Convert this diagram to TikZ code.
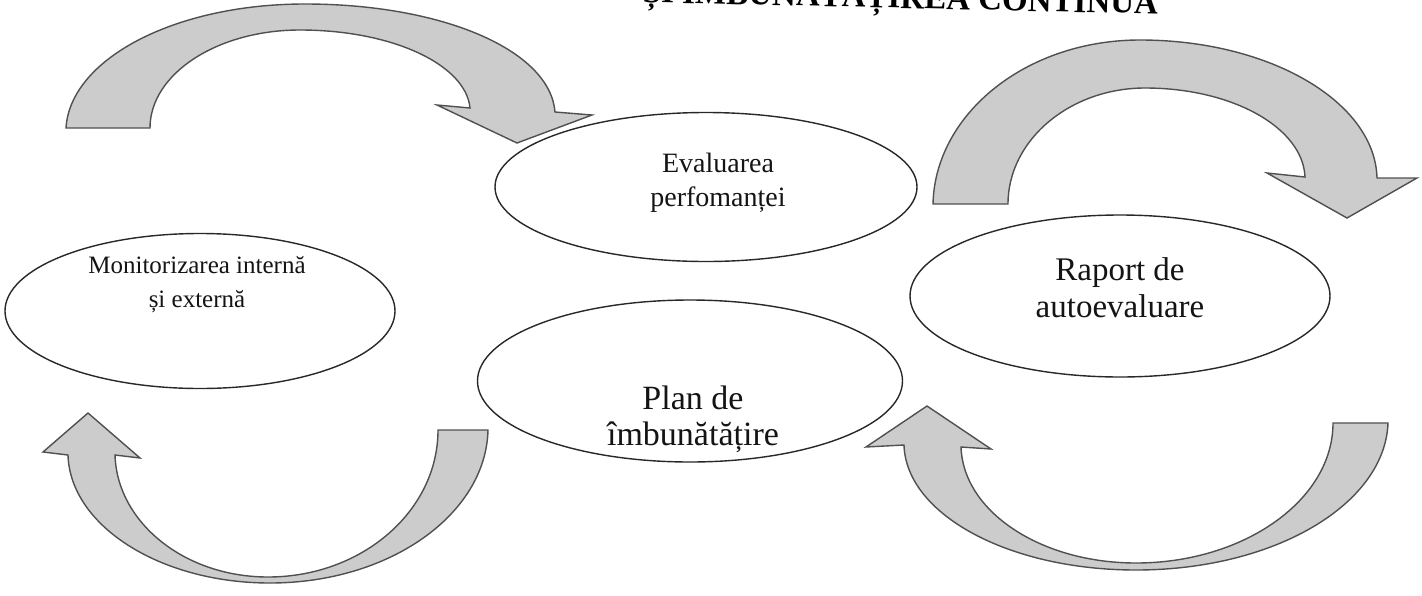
\documentclass[tikz,border=0pt]{standalone}
\usepackage{fontspec}
\setmainfont{Liberation Serif}
\usetikzlibrary{shapes.geometric}
\definecolor{arrowfill}{RGB}{204,204,204}
\definecolor{arrowline}{RGB}{80,80,80}
\definecolor{ellline}{RGB}{40,40,40}
\definecolor{txt}{RGB}{20,20,20}
\begin{document}
\begin{tikzpicture}[x=1pt,y=-1pt,
  ell/.style={ellipse, draw=ellline, line width=1.4pt, inner sep=0pt},
  lbl/.style={align=center, text=txt, inner sep=0pt},
  barrow/.style={fill=arrowfill, draw=arrowline, line width=1.4pt, line join=miter}]
\path[use as bounding box] (0,0) rectangle (1422,595);
\clip (0,0) rectangle (1422,595);
\fill[white] (0,0) rectangle (1422,595);

% title (cut at the top)
\node[anchor=base east, inner sep=0pt, rotate=-1.3, font=\bfseries\fontsize{33}{36}\selectfont] (title) at (1158,14) {ȘI ÎMBUNĂTĂȚIREA CONTINUĂ};

% ellipses
\node[ell, minimum width=422pt, minimum height=149pt] (eval) at (706,187) {};
\node[ell, minimum width=390pt, minimum height=155pt] (mon) at (200,311) {};
\node[ell, minimum width=420pt, minimum height=162pt] (rap) at (1120,296) {};
\node[ell, minimum width=425pt, minimum height=162pt] (plan) at (690,381) {};

% texts
\node[lbl, font=\fontsize{28}{34}\selectfont] (evalt) at (718,183) {Evaluarea\\perfomanței};
\node[lbl, font=\fontsize{25}{34}\selectfont] (mont) at (197,285) {Monitorizarea internă\\și externă};
\node[lbl, font=\fontsize{33}{37}\selectfont] (rapt) at (1120,288) {Raport de\\autoevaluare};
\node[lbl, font=\fontsize{34}{36}\selectfont] (plant) at (693,419) {Plan de\\îmbunătățire};

% top-left curved arrow
\draw[barrow] (66,128) .. controls (70,60) and (173,4) .. (305,4)
  .. controls (442,4) and (550,50) .. (555,112)
  -- (592,115) -- (517,143) -- (437,105) -- (470,108)
  .. controls (466,65) and (393,30) .. (300,30)
  .. controls (217,30) and (150,74) .. (150,128) -- cycle;

% top-right curved arrow
\draw[barrow] (933,204) .. controls (935,114) and (1026,40) .. (1140,40)
  .. controls (1270,40) and (1375,102) .. (1377,178)
  -- (1417,178) -- (1347,218) -- (1267,173) -- (1305,177)
  .. controls (1303,128) and (1233,88) .. (1145,88)
  .. controls (1070,88) and (1008,140) .. (1008,204) -- cycle;

% bottom-left curved arrow
\draw[barrow] (438,430) -- (488,430)
  .. controls (486,514) and (390,583) .. (270,583)
  .. controls (159,583) and (70,525) .. (68,455)
  -- (43,452) -- (88,413) -- (140,458) -- (115,455)
  .. controls (117,522) and (184,577) .. (268,577)
  .. controls (362,577) and (438,511) .. (438,430) -- cycle;

% bottom-right curved arrow
\draw[barrow] (1333,423) -- (1388,423)
  .. controls (1385,504) and (1275,570) .. (1136,570)
  .. controls (1008,570) and (906,514) .. (904,445)
  -- (866,447) -- (927,406) -- (991,449) -- (961,447)
  .. controls (963,511) and (1040,563) .. (1136,563)
  .. controls (1244,563) and (1333,500) .. (1333,423) -- cycle;
\end{tikzpicture}
\end{document}
